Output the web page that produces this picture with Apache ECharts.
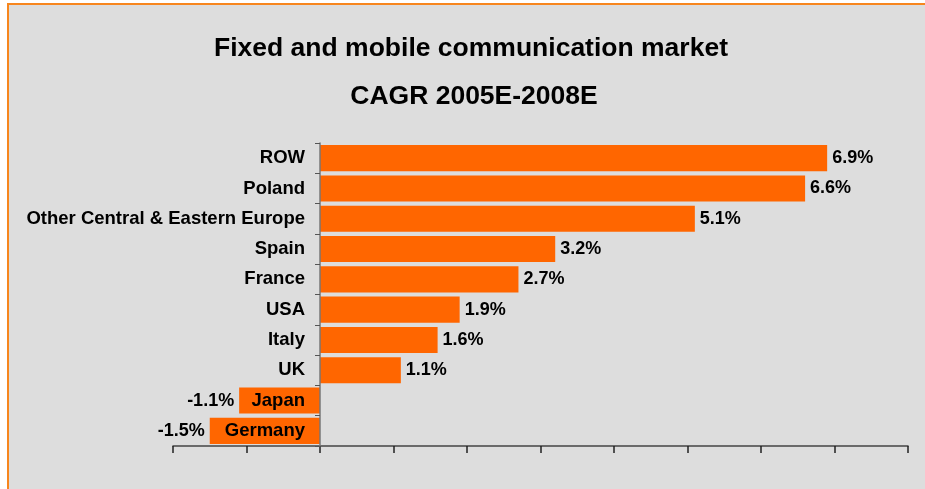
<!DOCTYPE html>
<html>
<head>
<meta charset="utf-8">
<script src="https://cdn.jsdelivr.net/npm/echarts@6/dist/echarts.min.js"></script>
<style>
html,body{margin:0;padding:0;background:#fff;}
#frame{position:absolute;left:7px;top:3px;width:918px;height:486px;border-left:2px solid #F7861E;border-top:2px solid #F7861E;background:#DDDDDD;}
#chart{position:absolute;left:0;top:0;width:925px;height:489px;}
</style>
</head>
<body>
<div id="frame"></div>
<div id="chart"></div>
<script>
const categories = ["ROW","Poland","Other Central & Eastern Europe","Spain","France","USA","Italy","UK","Japan","Germany"];
const values = [6.9, 6.6, 5.1, 3.2, 2.7, 1.9, 1.6, 1.1, -1.1, -1.5];
const titleLines = ["Fixed and mobile communication market", "CAGR 2005E-2008E"];
const xMin = -2, xMax = 8;

const FONT = "'Liberation Sans',Arial,sans-serif";
const GRID_LEFT = 173, GRID_RIGHT = 17;
const plotW = 925 - GRID_LEFT - GRID_RIGHT;
const zeroOffset = plotW * (0 - xMin) / (xMax - xMin);

const chart = echarts.init(document.getElementById('chart'), null, {renderer:'canvas'});
chart.setOption({
  backgroundColor: 'transparent',
  animation: false,
  title: [
    {text: titleLines[0], left: 466, textAlign: 'center', top: 30, textStyle:{fontFamily:FONT, fontWeight:'bold', fontSize:26.5, color:'#000'}},
    {text: titleLines[1], left: 469, textAlign: 'center', top: 78, textStyle:{fontFamily:FONT, fontWeight:'bold', fontSize:26.5, color:'#000'}}
  ],
  grid: {left: GRID_LEFT, right: GRID_RIGHT, top: 143, bottom: 43, containLabel: false, outerBoundsMode: 'none'},
  xAxis: {
    type: 'value', min: xMin, max: xMax, interval: 1,
    axisLine: {show: true, onZero: false, lineStyle:{color:'#444', width:1.5}},
    axisTick: {show: true, length: 7, lineStyle:{color:'#222', width:1.5}},
    axisLabel: {show: false},
    splitLine: {show: false}
  },
  yAxis: {
    type: 'category', inverse: true, data: categories,
    offset: -zeroOffset,
    axisLine: {show: true, onZero: false, lineStyle:{color:'#777', width:1.5}},
    axisTick: {show: true, length: 5, inside: false, lineStyle:{color:'#555', width:1}},
    axisLabel: {margin: 15, fontFamily:FONT, fontWeight:'bold', fontSize:18.5, color:'#000'},
    z: 5
  },
  series: [{
    type: 'bar',
    data: values.map(v => ({
      value: v,
      label: {position: v < 0 ? 'left' : 'right'}
    })),
    barCategoryGap: '14%',
    itemStyle: {color: '#FF6600'},
    label: {show: true, distance: 5, fontFamily:FONT, fontWeight:'bold', fontSize:18, color:'#000',
      formatter: p => p.value.toFixed(1) + '%'}
  }]
});
</script>
</body>
</html>
